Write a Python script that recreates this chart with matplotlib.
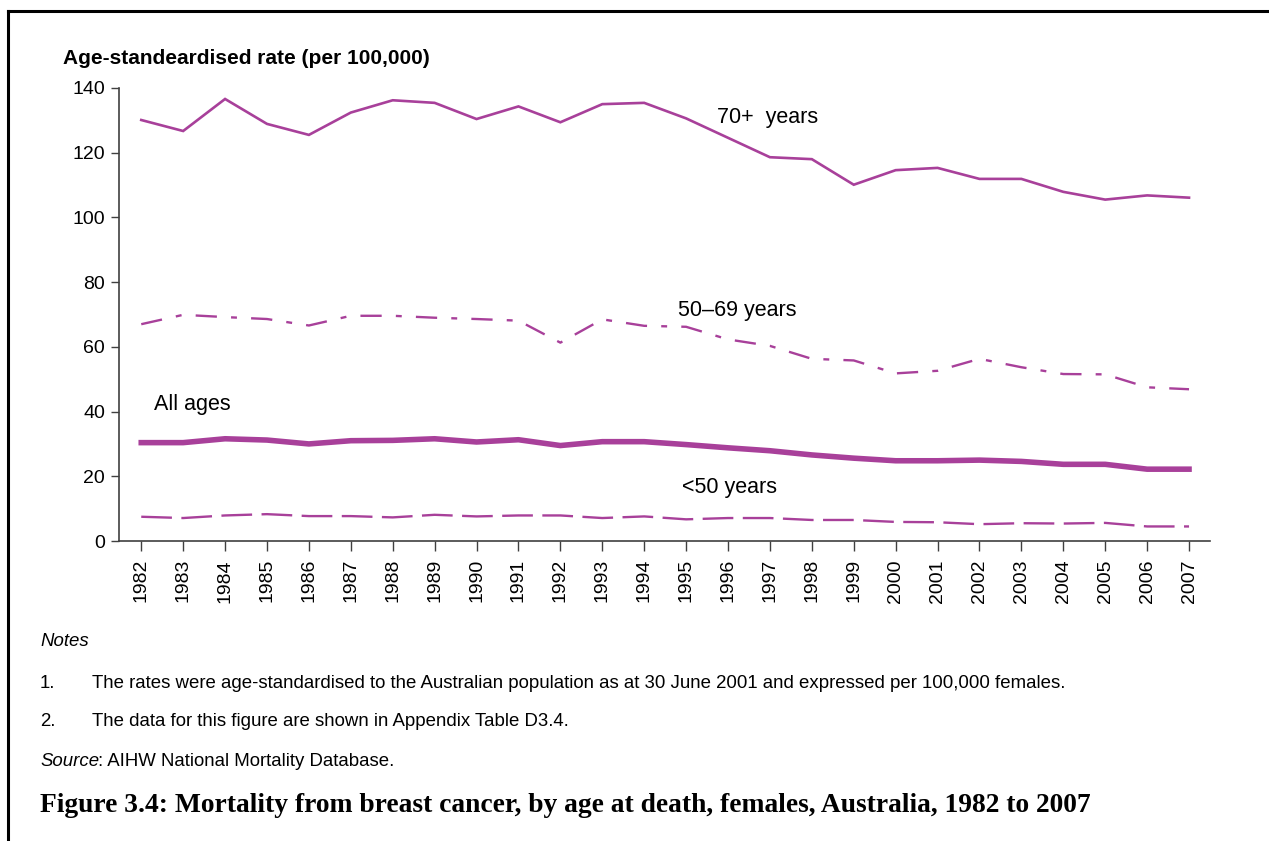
import matplotlib
matplotlib.use("Agg")
import matplotlib.pyplot as plt
from matplotlib.lines import Line2D

plt.rcParams['font.family'] = ['Liberation Sans', 'DejaVu Sans']

years = list(range(1982, 2008))

rate_70plus = [130.1, 126.7, 136.6, 128.9, 125.5, 132.4, 136.2, 135.4, 130.4, 134.3, 129.4, 135.0, 135.4,
               130.6, 124.6, 118.6, 118.0, 110.1, 114.6, 115.3, 111.9, 111.9, 107.9, 105.5, 106.8, 106.1]
rate_50_69 = [67.0, 69.9, 69.2, 68.6, 66.6, 69.6, 69.6, 69.0, 68.6, 68.1, 61.3, 68.5, 66.5,
              66.2, 62.3, 60.3, 56.3, 55.8, 51.8, 52.6, 56.3, 53.7, 51.6, 51.5, 47.5, 46.9]
rate_all = [30.4, 30.4, 31.6, 31.2, 30.0, 31.0, 31.1, 31.6, 30.6, 31.3, 29.5, 30.7, 30.7,
            29.8, 28.8, 27.9, 26.6, 25.6, 24.8, 24.8, 25.0, 24.6, 23.7, 23.7, 22.2, 22.2]
rate_under50 = [7.5, 7.1, 7.9, 8.3, 7.7, 7.7, 7.3, 8.1, 7.6, 7.9, 7.9, 7.1, 7.6,
                6.7, 7.1, 7.1, 6.5, 6.5, 5.9, 5.8, 5.2, 5.5, 5.4, 5.6, 4.5, 4.5]

y_ticks = [0, 20, 40, 60, 80, 100, 120, 140]

col = '#A8409A'

fig = plt.figure(figsize=(12.69, 8.41), dpi=100)
ax = fig.add_axes([0.0938, 0.3567, 0.8597, 0.5387])

ax.plot(years, rate_70plus, color=col, lw=1.9, solid_joinstyle='miter')
ax.plot(years, rate_50_69, color=col, lw=1.7, dashes=(9, 6, 2.5, 6))
ax.plot(years, rate_all, color=col, lw=4.0)
ax.plot(years, rate_under50, color=col, lw=1.7, dashes=(13, 4))

lab_fs = 15.5
ax.text(1995.74, 131, '70+  years', fontsize=lab_fs, va='center', ha='left')
ax.text(1994.8, 71.1, '50\u201369 years', fontsize=lab_fs, va='center', ha='left')
ax.text(1982.31, 42.3, 'All ages', fontsize=lab_fs, va='center', ha='left')
ax.text(1994.9, 16.4, '<50 years', fontsize=lab_fs, va='center', ha='left')

ax.set_xlim(1981.47, 2007.5)
ax.set_ylim(0, 140)
ax.set_yticks(y_ticks)
ax.set_xticks(years)
ax.set_xticklabels([str(y) for y in years], rotation=90, fontsize=14)
ax.tick_params(axis='y', labelsize=14, direction='out', length=6, width=1, color='#404040', pad=4)
ax.tick_params(axis='x', direction='out', length=7, width=1, color='#404040', pad=6)
for s in ['top', 'right']:
    ax.spines[s].set_visible(False)
for s in ['left', 'bottom']:
    ax.spines[s].set_color('#404040')
    ax.spines[s].set_linewidth(1.2)

fig.text(63 / 1269, 1 - 58 / 841, 'Age-standeardised rate (per 100,000)', fontsize=15,
         fontweight='bold', va='center', ha='left')

# notes block
nfs = 13.4
fig.text(40 / 1269, 1 - 641 / 841, 'Notes', fontsize=nfs, style='italic', va='center')
fig.text(40 / 1269, 1 - 684 / 841, '1.', fontsize=nfs, va='center')
fig.text(92 / 1269, 1 - 684 / 841,
         'The rates were age-standardised to the Australian population as at 30 June 2001 and expressed per 100,000 females.',
         fontsize=nfs, va='center')
fig.text(40 / 1269, 1 - 722 / 841, '2.', fontsize=nfs, va='center')
fig.text(92 / 1269, 1 - 722 / 841, 'The data for this figure are shown in Appendix Table D3.4.',
         fontsize=nfs, va='center')
src = fig.text(40 / 1269, 1 - 761 / 841, 'Source', fontsize=nfs, style='italic', va='center')
fig.canvas.draw()
bb = src.get_window_extent()
fig.text((bb.x1 - 1) / 1269, 1 - 761 / 841, ': AIHW National Mortality Database.', fontsize=nfs, va='center')

fig.text(40 / 1269, 1 - 805 / 841,
         'Figure 3.4: Mortality from breast cancer, by age at death, females, Australia, 1982 to 2007',
         fontsize=19.8, fontweight='bold', family='Liberation Serif', va='center')

# page frame
fig.add_artist(Line2D([8 / 1269, 1.0], [1 - 11 / 841, 1 - 11 / 841], color='black', lw=2.2,
                      transform=fig.transFigure))
fig.add_artist(Line2D([8 / 1269, 8 / 1269], [1 - 11 / 841, 0], color='black', lw=2.2,
                      transform=fig.transFigure))

fig.savefig('out.png', dpi=100)
